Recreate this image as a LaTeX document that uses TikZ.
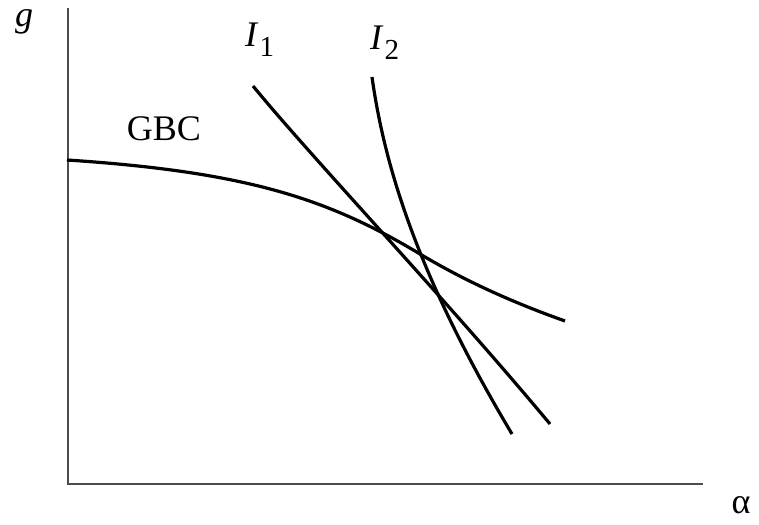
\documentclass[tikz,border=0pt]{standalone}
\usepackage{fontspec}
\setmainfont{Liberation Serif}
\usepackage{tikz}
\usetikzlibrary{positioning,calc}

\newcommand{\curvelabel}[2]{\textit{#1}\kern1pt\raisebox{-10pt}{\fontsize{29}{30}\selectfont #2}}

\begin{document}
\begin{tikzpicture}[x=1pt, y=-1pt,
    lbl/.style={inner sep=0pt, font=\fontsize{36}{40}\selectfont},
    axisline/.style={line width=1.3pt, black!70},
    curve/.style={line width=3.2pt, black, line cap=butt}]

  \useasboundingbox (0,0) rectangle (759,524);

  % Axes
  \coordinate (o) at (68,484);
  \coordinate (ytop) at (68,8);
  \coordinate (xend) at (703,484);
  \draw[axisline] (ytop) -- (o) -- (xend);

  % Axis labels
  \node[lbl, anchor=base] (glab) at (24,27) {\textit{g}};
  \node[lbl, anchor=base] (alab) at (741,513) {α};

  % Budget constraint
  \coordinate (gbcA) at (67,160);
  \coordinate (gbcB) at (420,254);
  \coordinate (gbcC) at (565,321);
  \draw[curve] (gbcA) .. controls (250,172) and (330,200) .. (gbcB)
                      .. controls (470,284) and (520,305) .. (gbcC);
  \node[lbl, anchor=base] (gbc) at (164,140) {GBC};

  % Indifference curves
  \coordinate (i1top) at (253,86);
  \coordinate (i1bot) at (550,424);
  \coordinate (i2top) at (372,77);
  \coordinate (i2bot) at (512,434);
  \draw[curve] (i1top) .. controls (312,158) and (445,298) .. (i1bot);
  \draw[curve] (i2top) .. controls (385,170) and (420,280) .. (i2bot);
  \node[lbl, anchor=base west] (i1) at (245,47) {\curvelabel{I}{1}};
  \node[lbl, anchor=base west] (i2) at (370,50) {\curvelabel{I}{2}};

\end{tikzpicture}
\end{document}
